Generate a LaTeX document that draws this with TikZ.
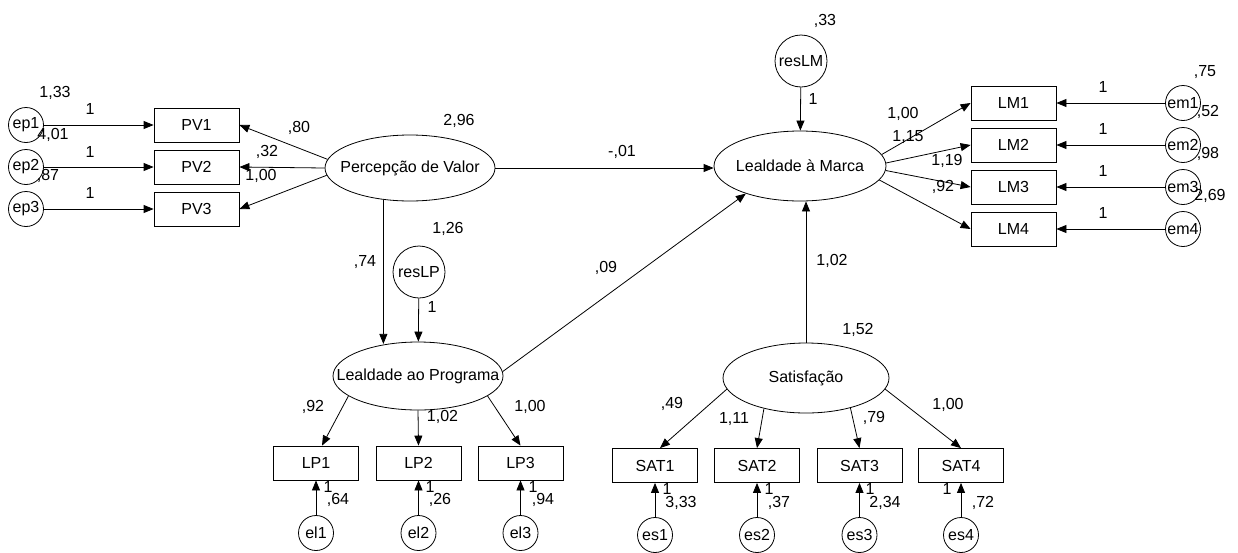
\documentclass[tikz,border=0pt]{standalone}
\usepackage{fontspec}
\setmainfont{Liberation Sans}
\usetikzlibrary{arrows.meta,shapes.geometric}
\begin{document}
\begin{tikzpicture}[x=1pt,y=-1pt, font=\fontsize{16}{19}\selectfont,
  every path/.style={line width=0.8pt},
  obs/.style={draw, line width=0.8pt, minimum width=85pt, minimum height=34pt, inner sep=0pt},
  err/.style={draw, line width=0.8pt, circle, minimum size=35pt, inner sep=0pt},
  res/.style={draw, line width=0.8pt, circle, minimum size=52pt, inner sep=0pt},
  lat/.style={draw, line width=0.8pt, ellipse, inner sep=0pt},
  arr/.style={-{Triangle[length=10pt,width=8pt]}, line width=0.8pt},
  lbl/.style={inner sep=0pt}]
\useasboundingbox (0,0) rectangle (1238,552);

% latent variables
\node[lat, minimum width=170pt, minimum height=66pt] (pv) at (410,168) {\makebox[0pt]{Percepção de Valor}};
\node[lat, minimum width=172pt, minimum height=70pt] (lm) at (800,166) {\makebox[0pt]{Lealdade à Marca}};
\node[lat, minimum width=170pt, minimum height=68pt] (lp) at (418,376) {\makebox[0pt]{Lealdade ao Programa}};
\node[lat, minimum width=166pt, minimum height=70pt] (sat) at (806,378) {\makebox[0pt]{Satisfação}};

% residuals
\node[res] (resLM) at (801,61) {\makebox[0pt]{resLM}};
\node[res] (resLP) at (419,272) {\makebox[0pt]{resLP}};

% PV
\node[obs] (PV1) at (196.5,125) {PV1};
\node[obs] (PV2) at (196.5,167) {PV2};
\node[obs] (PV3) at (196.5,209) {PV3};
\node[err] (ep1) at (26,125) {\makebox[0pt]{ep1}};
\node[err] (ep2) at (26,167) {\makebox[0pt]{ep2}};
\node[err] (ep3) at (26,209) {\makebox[0pt]{ep3}};

% LM
\node[obs] (LM1) at (1013.5,103) {LM1};
\node[obs] (LM2) at (1013.5,145) {LM2};
\node[obs] (LM3) at (1013.5,187) {LM3};
\node[obs] (LM4) at (1013.5,229) {LM4};
\node[err] (em1) at (1183,103) {\makebox[0pt]{em1}};
\node[err] (em2) at (1183,145) {\makebox[0pt]{em2}};
\node[err] (em3) at (1183,187) {\makebox[0pt]{em3}};
\node[err] (em4) at (1183,229) {\makebox[0pt]{em4}};

% LP
\node[obs] (LP1) at (316,463) {LP1};
\node[obs] (LP2) at (418.5,463) {LP2};
\node[obs] (LP3) at (520.5,463) {LP3};
\node[err] (el1) at (316,533) {\makebox[0pt]{el1}};
\node[err] (el2) at (418.5,533) {\makebox[0pt]{el2}};
\node[err] (el3) at (520.5,533) {\makebox[0pt]{el3}};

% SAT
\node[obs] (SAT1) at (655,465.5) {SAT1};
\node[obs] (SAT2) at (757,465.5) {SAT2};
\node[obs] (SAT3) at (859.5,465.5) {SAT3};
\node[obs] (SAT4) at (961,465.5) {SAT4};
\node[err] (es1) at (655,535) {\makebox[0pt]{es1}};
\node[err] (es2) at (757,535) {\makebox[0pt]{es2}};
\node[err] (es3) at (859.5,535) {\makebox[0pt]{es3}};
\node[err] (es4) at (961,535) {\makebox[0pt]{es4}};

% connectors
\draw[arr] (ep1) -- (PV1);
\draw[arr] (ep2) -- (PV2);
\draw[arr] (ep3) -- (PV3);
\draw[arr] (pv.174) -- (PV1.east);
\draw[arr] (pv.west) -- (PV2.east);
\draw[arr] (pv.185) -- (PV3.east);
\draw[arr] (pv.east) -- (pv.east -| lm.west);
\draw[arr] (pv.-130) -- (pv.-130 |- lp.134);
\draw[arr] (resLP) -- (lp);
\draw[arr] (resLM) -- (lm);
\draw[arr] (lp.3) -- (lm.-153);
\draw[arr] (sat.north) -- (sat.north |- lm.south);
\draw[arr] (lm.8) -- (LM1.west);
\draw[arr] (lm.2) -- (LM2.west);
\draw[arr] (lm.-3) -- (LM3.west);
\draw[arr] (lm.-10) -- (LM4.west);
\draw[arr] (em1) -- (LM1);
\draw[arr] (em2) -- (LM2);
\draw[arr] (em3) -- (LM3);
\draw[arr] (em4) -- (LM4);
\draw[arr] (lp.-164) -- ([xshift=6pt]LP1.north);
\draw[arr] (lp.south) -- (LP2.north);
\draw[arr] (lp.-16) -- (LP3.north);
\draw[arr] (el1) -- (LP1);
\draw[arr] (el2) -- (LP2);
\draw[arr] (el3) -- (LP3);
\draw[arr] (sat.-172) -- ([xshift=5pt]SAT1.north);
\draw[arr] (sat.-144) -- (SAT2.north);
\draw[arr] (sat.-34) -- (SAT3.north);
\draw[arr] (sat.-8) -- (SAT4.north);
\draw[arr] (es1) -- (SAT1);
\draw[arr] (es2) -- (SAT2);
\draw[arr] (es3) -- (SAT3);
\draw[arr] (es4) -- (SAT4);

% labels
\node[lbl] (l01) at (55,93) {1,33};
\node[lbl] (l02) at (90,109) {1};
\node[lbl] (l03) at (53,135) {4,01};
\node[lbl] (l04) at (90,152) {1};
\node[lbl] (l05) at (48,176) {,87};
\node[lbl] (l06) at (90,193) {1};
\node[lbl] (l07) at (299,128) {,80};
\node[lbl] (l08) at (267,152) {,32};
\node[lbl] (l09) at (261,176) {1,00};
\node[lbl] (l10) at (459,121) {2,96};
\node[lbl] (l11) at (622,152) {-,01};
\node[lbl] (l12) at (606,268) {,09};
\node[lbl] (l13) at (448,229) {1,26};
\node[lbl] (l14) at (365,262) {,74};
\node[lbl] (l15) at (432,307) {1};
\node[lbl] (l16) at (825,21) {,33};
\node[lbl] (l17) at (813,99) {1};
\node[lbl] (l18) at (903,114) {1,00};
\node[lbl] (l19) at (908,137) {1,15};
\node[lbl] (l20) at (947,161) {1,19};
\node[lbl] (l21) at (943,187) {,92};
\node[lbl] (l22) at (1103,87) {1};
\node[lbl] (l23) at (1103,129) {1};
\node[lbl] (l24) at (1103,171) {1};
\node[lbl] (l25) at (1103,213) {1};
\node[lbl] (l26) at (1205,72) {,75};
\node[lbl] (l27) at (1208,112) {,52};
\node[lbl] (l28) at (1208,154) {,98};
\node[lbl] (l29) at (1210,196) {2,69};
\node[lbl] (l30) at (832,261) {1,02};
\node[lbl] (l31) at (858,330) {1,52};
\node[lbl] (l32) at (313,407) {,92};
\node[lbl] (l33) at (442.5,417) {1,02};
\node[lbl] (l34) at (530,407) {1,00};
\node[lbl] (l35) at (328,487) {1};
\node[lbl] (l36) at (338,500) {,64};
\node[lbl] (l37) at (430,487) {1};
\node[lbl] (l38) at (440,500) {,26};
\node[lbl] (l39) at (533,487) {1};
\node[lbl] (l40) at (543,500) {,94};
\node[lbl] (l41) at (672,404) {,49};
\node[lbl] (l42) at (734,419) {1,11};
\node[lbl] (l43) at (874,418) {,79};
\node[lbl] (l44) at (948,405) {1,00};
\node[lbl] (l45) at (667,489) {1};
\node[lbl] (l46) at (681,503) {3,33};
\node[lbl] (l47) at (769,489) {1};
\node[lbl] (l48) at (779,503) {,37};
\node[lbl] (l49) at (870,489) {1};
\node[lbl] (l50) at (885,503) {2,34};
\node[lbl] (l51) at (947,489) {1};
\node[lbl] (l52) at (983,503) {,72};
\end{tikzpicture}
\end{document}
